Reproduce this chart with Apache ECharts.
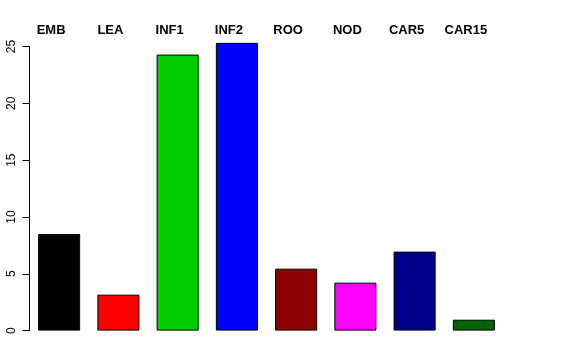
<!DOCTYPE html>
<html>
<head>
<meta charset="utf-8">
<script src="https://cdn.jsdelivr.net/npm/echarts@6/dist/echarts.min.js"></script>
<style>html,body{margin:0;padding:0;background:#fff}#c{width:576px;height:360px}</style>
</head>
<body>
<div id="c"></div>
<script>
const categories = ['EMB', 'LEA', 'INF1', 'INF2', 'ROO', 'NOD', 'CAR5', 'CAR15'];
const values = [8.5, 3.16, 24.29, 25.32, 5.45, 4.22, 6.95, 0.96];
const barColors = ['#000000', '#FF0000', '#00CD00', '#0000FF', '#8B0000', '#FF00FF', '#00008B', '#006400'];
const yTicks = [0, 5, 10, 15, 20, 25];
// horizontal label shift (px, leftwards) to mimic the original placement
const labelShift = 8;

const chart = echarts.init(document.getElementById('c'), null, {renderer: 'canvas'});
chart.setOption({
  animation: false,
  backgroundColor: '#fff',
  grid: {left: 29.5, right: 72.5, top: 46.5, bottom: 29.4, containLabel: false},
  xAxis: {
    type: 'category',
    position: 'top',
    data: categories,
    axisLine: {show: false},
    axisTick: {show: false},
    axisLabel: {
      margin: 10,
      interval: 0,
      formatter: function (v) { return '{l|' + v + '}'; },
      rich: {
        l: {
          fontFamily: 'Liberation Sans, Arial, sans-serif',
          fontWeight: 'bold',
          fontSize: 13,
          color: '#000',
          padding: [0, labelShift * 2, 0, 0]
        }
      }
    }
  },
  yAxis: {
    type: 'value',
    min: yTicks[0],
    max: yTicks[yTicks.length - 1],
    interval: 5,
    axisLine: {show: true, lineStyle: {color: '#000', width: 1}},
    axisTick: {show: true, length: 7, lineStyle: {color: '#000'}},
    splitLine: {show: false},
    axisLabel: {
      rotate: 90,
      margin: 12,
      fontFamily: 'Liberation Sans, Arial, sans-serif',
      fontSize: 12,
      color: '#000'
    }
  },
  series: [{
    type: 'bar',
    clip: false,
    barCategoryGap: '29%',
    data: values.map((v, i) => ({
      value: v,
      itemStyle: {color: barColors[i], borderColor: '#000', borderWidth: 1}
    }))
  }]
});
</script>
</body>
</html>
